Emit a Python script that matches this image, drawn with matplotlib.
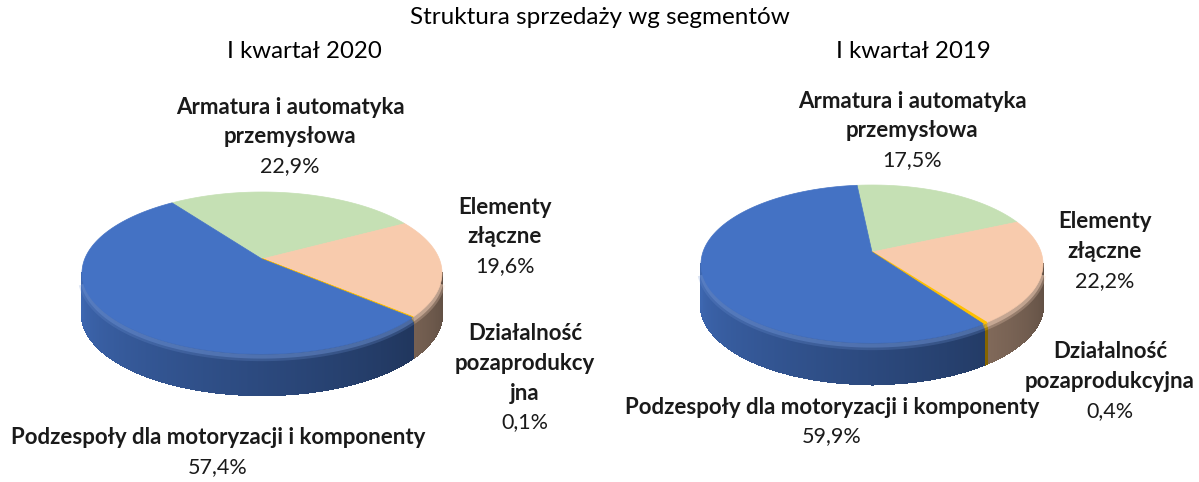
import numpy as np
import matplotlib.pyplot as plt
from matplotlib.patches import Polygon
from matplotlib.colors import to_rgb

plt.rcParams['font.family'] = ['Lato', 'DejaVu Sans']

# data
segments = ['Armatura i automatyka przemysłowa', 'Elementy złączne',
            'Działalność pozaprodukcyjna', 'Podzespoły dla motoryzacji i komponenty']
share_2020 = [22.9, 19.6, 0.1, 57.4]
share_2019 = [17.5, 22.2, 0.4, 59.9]
labels_2020 = ['Armatura i automatyka\nprzemysłowa', 'Elementy\nzłączne',
               'Działalność\npozaprodukcy\njna', 'Podzespoły dla motoryzacji i komponenty']
labels_2019 = ['Armatura i automatyka\nprzemysłowa', 'Elementy\nzłączne',
               'Działalność\npozaprodukcyjna', 'Podzespoły dla motoryzacji i komponenty']
colors = ['#c5e0b4', '#f8cbad', '#ffc000', '#4472c4']


def shade(theta):
    # side lighting: bright on the left, dark on the right
    t = theta % 360
    return 0.38 + (t - 90) / 180 * 0.52


def pie3d(ax, values, cx, cy, rx, ry, depth, start, voff):
    total = sum(values)
    bounds = start + np.concatenate([[0], np.cumsum(values)]) / total * 360

    def pt(th, dy=0.0):
        r = np.radians(th)
        return cx + rx * np.sin(r), cy - ry * np.cos(r) + dy

    # side walls (front half only)
    for i, col in enumerate(colors):
        a0, a1 = bounds[i], bounds[i + 1]
        base = np.array(to_rgb(col))
        for k in (-360, 0, 360):
            lo, hi = max(a0, 90 + k), min(a1, 270 + k)
            if hi <= lo:
                continue
            ts = np.linspace(lo, hi, max(2, int((hi - lo) / 0.5) + 2))
            for t0, t1 in zip(ts[:-1], ts[1:]):
                c = np.clip(base * shade((t0 + t1) / 2), 0, 1)
                quad = [pt(t0), pt(t1), pt(t1, depth), pt(t0, depth)]
                ax.add_patch(Polygon(quad, closed=True, facecolor=c,
                                     edgecolor=c, lw=1.0, antialiased=False,
                                     zorder=2))
            # soft bevel on the rim, kept off the silhouette ends
            blo, bhi = max(lo, 96 + k), min(hi, 264 + k)
            if bhi <= blo:
                continue
            ts = np.linspace(blo, bhi, 120)
            hl = np.clip(base + (1 - base) * 0.2, 0, 1)
            for off, w, a in ((3, 6, 0.25), (2.5, 3, 0.45)):
                xs, ys = zip(*[pt(t, off) for t in ts])
                ax.plot(xs, ys, color=hl, lw=w, alpha=a, zorder=3,
                        solid_capstyle='butt')

    # top faces
    for i, col in enumerate(colors):
        a0, a1 = bounds[i], bounds[i + 1]
        ts = np.linspace(a0, a1, max(3, int(a1 - a0) * 2))
        verts = [(cx, cy - voff)] + [pt(t) for t in ts]
        ax.add_patch(Polygon(verts, closed=True, facecolor=col,
                             edgecolor=col, lw=1.2 if i == 2 else 0.5, zorder=4))


def label(ax, x, y, name, value, fs=16, step=29.5):
    lines = name.split('\n')
    for j, ln in enumerate(lines):
        ax.text(x, y + j * step, ln, ha='center', va='center',
                fontsize=fs, fontweight='bold', color='#1a1a1a')
    ax.text(x, y + len(lines) * step, f'{value:.1f}%'.replace('.', ','),
            ha='center', va='center', fontsize=15.5, color='#1a1a1a')


fig = plt.figure(figsize=(11.99, 4.82), dpi=100)
ax = fig.add_axes([0, 0, 1, 1])
ax.set_xlim(0, 1199)
ax.set_ylim(482, 0)
ax.axis('off')

pie3d(ax, share_2020, 262, 273, 180, 81, 41, -30, 14)
pie3d(ax, share_2019, 872, 264, 171, 79, 41, -5, 12)

ax.text(600, 18, 'Struktura sprzedaży wg segmentów', ha='center', va='center', fontsize=17.5)
ax.text(304, 52, 'I kwartał 2020', ha='center', va='center', fontsize=17.3)
ax.text(913, 52, 'I kwartał 2019', ha='center', va='center', fontsize=17.3)

pos_2020 = [(290, 107), (505, 207), (525, 334), (218, 438)]
pos_2019 = [(912, 101), (1105, 222), (1110, 352), (832, 407)]
for (x, y), name, v in zip(pos_2020, labels_2020, share_2020):
    label(ax, x, y, name, v)
for (x, y), name, v in zip(pos_2019, labels_2019, share_2019):
    label(ax, x, y, name, v)

fig.savefig('out.png', dpi=100)
